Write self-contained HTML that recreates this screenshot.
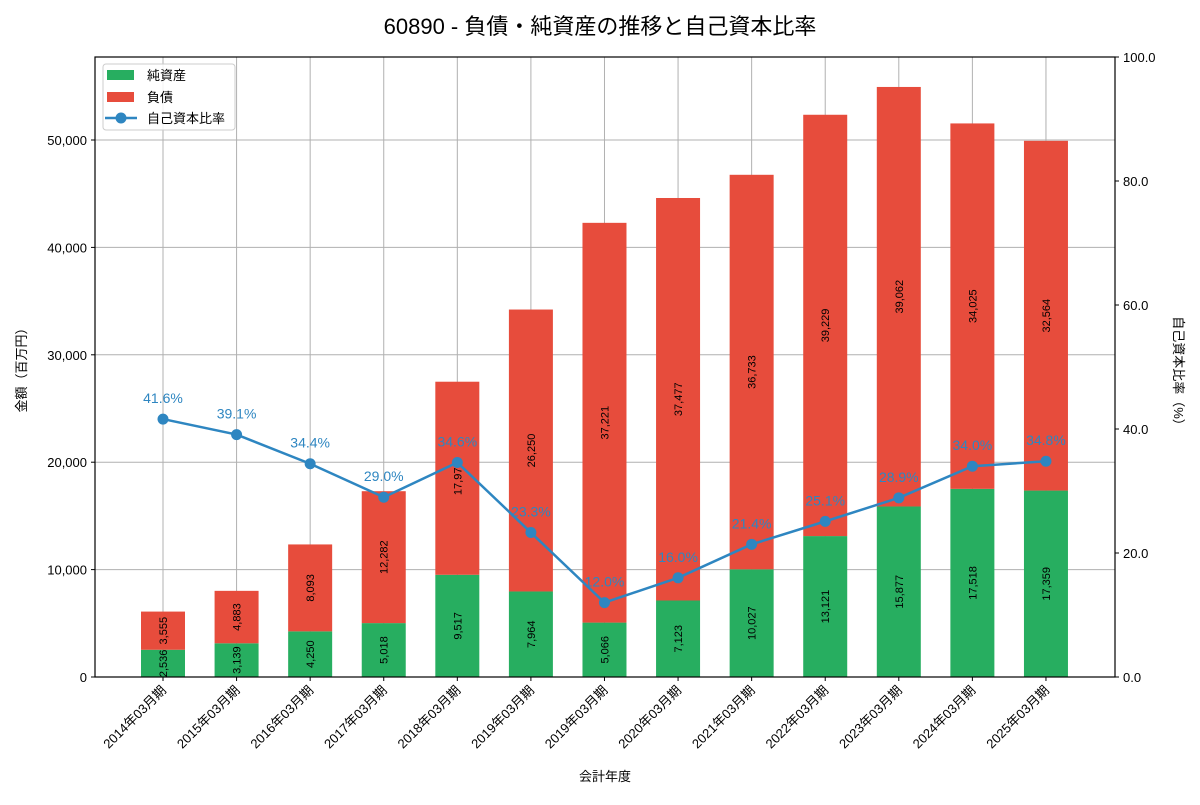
<!DOCTYPE html>
<html><head><meta charset="utf-8"><style>
body{margin:0;background:#fff;}
svg{font-family:"Liberation Sans","Noto Sans CJK JP",sans-serif;}
</style></head><body>
<svg id="chart" width="1200" height="800" xmlns="http://www.w3.org/2000/svg">
<rect width="1200" height="800" fill="#fff"/>
<text x="600" y="34" text-anchor="middle" font-size="22" fill="#000">60890 - 負債・純資産の推移と自己資本比率</text>
<g id="grid"></g><g id="bars"></g><g id="line"></g><g id="axes"></g>
<text transform="translate(26,367) rotate(-90)" text-anchor="middle" font-size="13">金額（百万円）</text>
<text transform="translate(1174,374) rotate(90)" text-anchor="middle" font-size="13">自己資本比率（%）</text>
<text x="605" y="781" text-anchor="middle" font-size="13">会計年度</text>
<g>
<rect x="103" y="64" width="132" height="66" fill="#fff" fill-opacity="0.85" stroke="#ccc" rx="3"/>
<rect x="107" y="70" width="27" height="10" fill="#27ae60"/>
<text x="147" y="80" font-size="13">純資産</text>
<rect x="107" y="92" width="27" height="10" fill="#e74c3c"/>
<text x="147" y="102" font-size="13">負債</text>
<line x1="105" y1="118" x2="137" y2="118" stroke="#2e86c1" stroke-width="2.5"/>
<circle cx="121" cy="118" r="5.5" fill="#2e86c1"/>
<text x="147" y="123" font-size="13">自己資本比率</text>
</g>
</svg>
<script>
const categories=["2014年03月期","2015年03月期","2016年03月期","2017年03月期","2018年03月期","2019年03月期","2019年03月期","2020年03月期","2021年03月期","2022年03月期","2023年03月期","2024年03月期","2025年03月期"];
const equity=[2536,3139,4250,5018,9517,7964,5066,7123,10027,13121,15877,17518,17359];
const liabilities=[3555,4883,8093,12282,17977,26250,37221,37477,36733,39229,39062,34025,32564];
const ratio=[41.6,39.1,34.4,29.0,34.6,23.3,12.0,16.0,21.4,25.1,28.9,34.0,34.8];
const yTicks=[0,10000,20000,30000,40000,50000];
const y2Ticks=[0,20,40,60,80,100];
const L=95,R=1115,T=57,B=677;
const yMax=(B-T)/107.4*10000;
const x=i=>163+i*73.58;
const y=v=>B-v/yMax*(B-T);
const y2=v=>B-v/100*(B-T);
const NS="http://www.w3.org/2000/svg";
function mk(p,tag,a,txt){const e=document.createElementNS(NS,tag);for(const k in a)e.setAttribute(k,a[k]);if(txt!==undefined)e.textContent=txt;p.appendChild(e);return e;}
const fmt=v=>v.toLocaleString('en-US');
const g=document.getElementById('grid'),gb=document.getElementById('bars'),gl=document.getElementById('line'),ga=document.getElementById('axes');
categories.forEach((c,i)=>{const l=mk(g,'line',{x1:x(i),x2:x(i),y1:T,y2:B,stroke:'#b0b0b0','stroke-width':1});

});
yTicks.forEach(v=>{const l=mk(g,'line',{x1:L,x2:R,y1:y(v),y2:y(v),stroke:'#b0b0b0','stroke-width':1});


const t=mk(ga,'text',{x:L-8,y:y(v)+5,'text-anchor':'end','font-size':13},fmt(v));


mk(ga,'line',{x1:L-4,x2:L,y1:y(v),y2:y(v),stroke:'#000'});});
y2Ticks.forEach(v=>{const t=mk(ga,'text',{x:R+8,y:y2(v)+5,'font-size':13},v.toFixed(1));


mk(ga,'line',{x1:R,x2:R+4,y1:y2(v),y2:y2(v),stroke:'#000'});});
const bw=44;
categories.forEach((c,i)=>{
const e=equity[i],li=liabilities[i];
const r1=mk(gb,'rect',{x:x(i)-bw/2,y:y(e),width:bw,height:B-y(e),fill:'#27ae60'});


const r2=mk(gb,'rect',{x:x(i)-bw/2,y:y(e+li),width:bw,height:y(e)-y(e+li),fill:'#e74c3c'});


const cy1=(B+y(e))/2,cy2=(y(e)+y(e+li))/2;
const t1=mk(gb,'text',{transform:`translate(${x(i)+4},${cy1}) rotate(-90)`,'text-anchor':'middle','font-size':11},fmt(e));


const t2=mk(gb,'text',{transform:`translate(${x(i)+4},${cy2}) rotate(-90)`,'text-anchor':'middle','font-size':11},fmt(li));


mk(ga,'line',{x1:x(i),x2:x(i),y1:B,y2:B+4,stroke:'#000'});
const xl=mk(ga,'text',{transform:`translate(${x(i)+4},${B+14}) rotate(-45)`,'text-anchor':'end','font-size':13},c);


});
const pl=mk(gl,'polyline',{points:ratio.map((v,i)=>x(i)+','+y2(v)).join(' '),fill:'none',stroke:'#2e86c1','stroke-width':2.5});


ratio.forEach((v,i)=>{const c=mk(gl,'circle',{cx:x(i),cy:y2(v),r:5.5,fill:'#2e86c1'});


const t=mk(gl,'text',{x:x(i),y:y2(v)-16,'text-anchor':'middle','font-size':14,fill:'#2e86c1'},v.toFixed(1)+'%');

});
const fr=mk(ga,'rect',{x:L,y:T,width:R-L,height:B-T,fill:'none',stroke:'#000','stroke-width':1.2});


</script>
</body></html>
